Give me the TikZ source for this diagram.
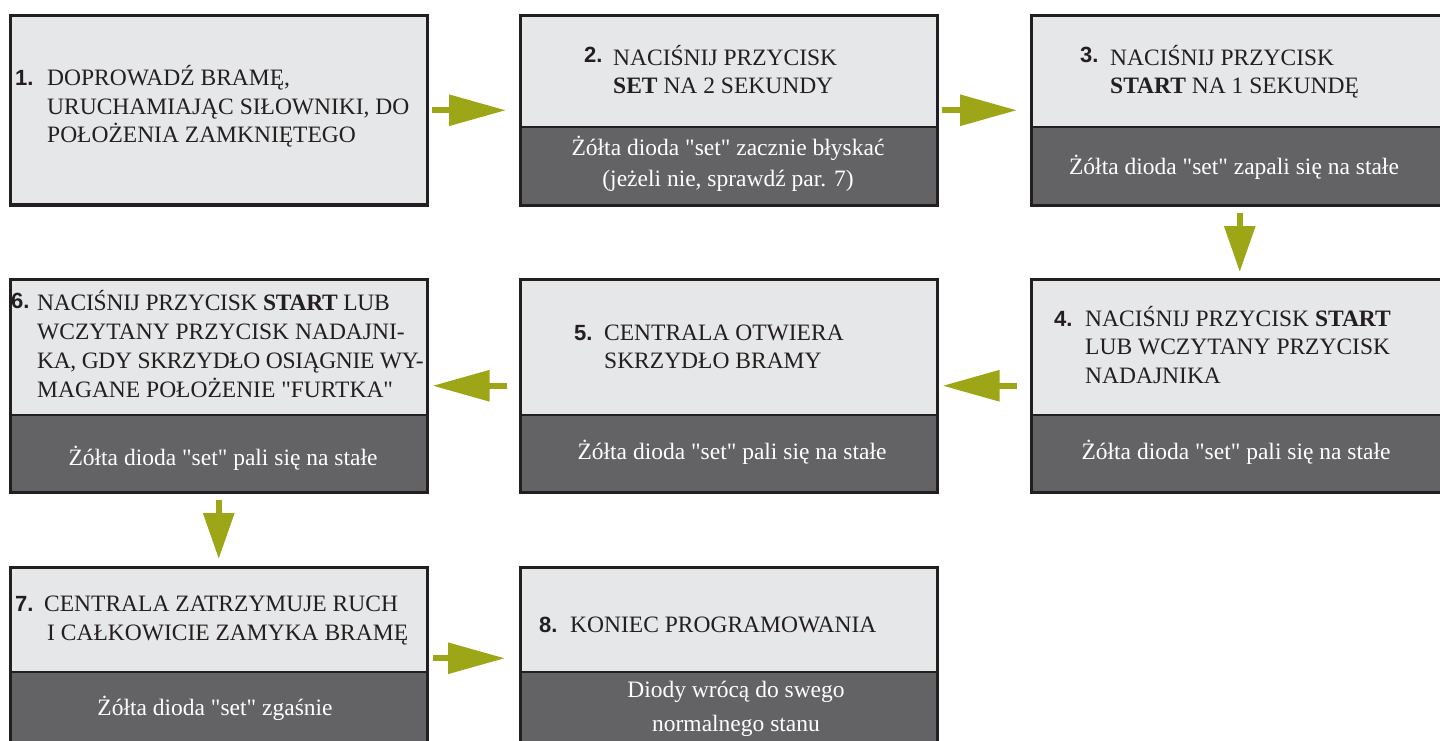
\documentclass[tikz,border=0pt]{standalone}
\usepackage{fontspec}
\setmainfont{Liberation Serif}[Ligatures=TeXOff]
\newfontfamily\serifface{Liberation Serif}[Ligatures=TeXOff]
\newfontfamily\numfont{Liberation Sans}
\usetikzlibrary{arrows.meta}
\definecolor{lightfill}{HTML}{E6E7E8}
\definecolor{darkfill}{HTML}{636366}
\definecolor{frame}{HTML}{231F20}
\definecolor{olive}{HTML}{9DA617}
\tikzset{
  tx/.style={font=\serifface\fontsize{23.5}{28}\selectfont, text=frame, inner sep=0pt, anchor=base west},
  wt/.style={font=\serifface\fontsize{23.5}{28}\selectfont, text=white, inner sep=0pt, anchor=base},
  num/.style={font=\numfont\bfseries\fontsize{22}{24}\selectfont, text=frame, inner sep=0pt, anchor=base west},
  hflow/.style={draw=olive, line width=6pt, -{Triangle[length=57pt,width=30pt]}},
  vflow/.style={draw=olive, line width=6pt, -{Triangle[length=46pt,width=30pt]}},
  frm/.style={draw=frame, line width=2.5pt, inner sep=0pt, anchor=north west, minimum width=417pt},
}
\newcommand{\mkbox}[5]{%
  \fill[lightfill] (#2,#3) rectangle (#2+417,#4);
  \fill[darkfill] (#2,#4) rectangle (#2+417,#5);
  \draw[frame, line width=1.5pt] (#2,#4) -- (#2+417,#4);
  \node[frm, minimum height={(#5-#3)*1pt}] (#1) at (#2,#3) {};
}
\begin{document}
\begin{tikzpicture}[x=1pt,y=-1pt]
\useasboundingbox (0,0) rectangle (1440,740);
\fill[white] (0,0) rectangle (1440,740);
\clip (0,0) rectangle (1440,740);
% boxes
\mkbox{b1}{9}{14}{204}{204}
\mkbox{b2}{519}{14}{127}{204}
\mkbox{b3}{1030}{14}{127}{204}
\mkbox{b6}{9}{278}{415}{491}
\mkbox{b5}{519}{278}{415}{491}
\mkbox{b4}{1030}{278}{415}{491}
\mkbox{b7}{9}{566}{672}{748}
\mkbox{b8}{519}{566}{672}{748}
% box 1
\node[num] (n1) at (15,85) {1.};
\node[tx] (t1a) at (47,85) {DOPROWADŹ BRAMĘ,};
\node[tx] (t1b) at (47,114) {URUCHAMIAJĄC SIŁOWNIKI, DO};
\node[tx] (t1c) at (47,142) {POŁOŻENIA ZAMKNIĘTEGO};
% box 2
\node[num] (n2) at (584,62) {2.};
\node[tx] (t2a) at (613,65) {NACIŚNIJ PRZYCISK};
\node[tx] (t2b) at (613,93) {\textbf{SET} NA 2 SEKUNDY};
\node[wt] (d2a) at (728,155) {Żółta dioda "set" zacznie błyskać};
\node[wt] (d2b) at (728,186) {(jeżeli nie, sprawdź par. 7)};
% box 3
\node[num] (n3) at (1080,62) {3.};
\node[tx] (t3a) at (1110,65) {NACIŚNIJ PRZYCISK};
\node[tx] (t3b) at (1110,93) {\textbf{START} NA 1 SEKUNDĘ};
\node[wt] (d3) at (1234,174) {Żółta dioda "set" zapali się na stałe};
% box 4
\node[num] (n4) at (1054,326) {4.};
\node[tx] (t4a) at (1085,326) {NACIŚNIJ PRZYCISK \textbf{START}};
\node[tx] (t4b) at (1085,354) {LUB WCZYTANY PRZYCISK};
\node[tx] (t4c) at (1085,383) {NADAJNIKA};
\node[wt] (d4) at (1236,459) {Żółta dioda "set" pali się na stałe};
% box 5
\node[num] (n5) at (574,340) {5.};
\node[tx] (t5a) at (604,340) {CENTRALA OTWIERA};
\node[tx] (t5b) at (604,368) {SKRZYDŁO BRAMY};
\node[wt] (d5) at (732,459) {Żółta dioda "set" pali się na stałe};
% box 6
\node[num] (n6) at (11,308) {6.};
\node[tx] (t6a) at (37,310) {\addfontfeature{LetterSpace=-1}NACIŚNIJ PRZYCISK \textbf{START} LUB};
\node[tx] (t6b) at (37,339) {WCZYTANY PRZYCISK NADAJNI-};
\node[tx] (t6c) at (37,368) {\addfontfeature{LetterSpace=-1.5}KA, GDY SKRZYDŁO OSIĄGNIE WY-};
\node[tx] (t6d) at (37,397) {MAGANE POŁOŻENIE "FURTKA"};
\node[wt] (d6) at (223,465) {Żółta dioda "set" pali się na stałe};
% box 7
\node[num] (n7) at (15,611) {7.};
\node[tx] (t7a) at (44,611) {CENTRALA ZATRZYMUJE RUCH};
\node[tx] (t7b) at (47,640) {I CAŁKOWICIE ZAMYKA BRAMĘ};
\node[wt] (d7) at (215,715) {Żółta dioda "set" zgaśnie};
% box 8
\node[num] (n8) at (539,632) {8.};
\node[tx] (t8) at (570,632) {KONIEC PROGRAMOWANIA};
\node[wt] (d8a) at (736,697) {Diody wrócą do swego};
\node[wt] (d8b) at (736,731) {normalnego stanu};
% arrows
\draw[hflow] ([xshift=3pt]b1.east) -- ([xshift=-13pt]b2.west);
\draw[hflow] ([xshift=3pt]b2.east) -- ([xshift=-13pt]b3.west);
\draw[vflow] ([yshift=-6pt]b3.south) -- ([yshift=6pt]b4.north);
\draw[hflow] ([xshift=-13pt]b4.west) -- ([xshift=4pt]b5.east);
\draw[hflow] ([xshift=-12pt]b5.west) -- ([xshift=4pt]b6.east);
\draw[vflow] ([yshift=-6pt]b6.south) -- ([yshift=7pt]b7.north);
\draw[hflow] ([xshift=4pt]b7.east) -- ([xshift=-14pt]b8.west);
\end{tikzpicture}
\end{document}
